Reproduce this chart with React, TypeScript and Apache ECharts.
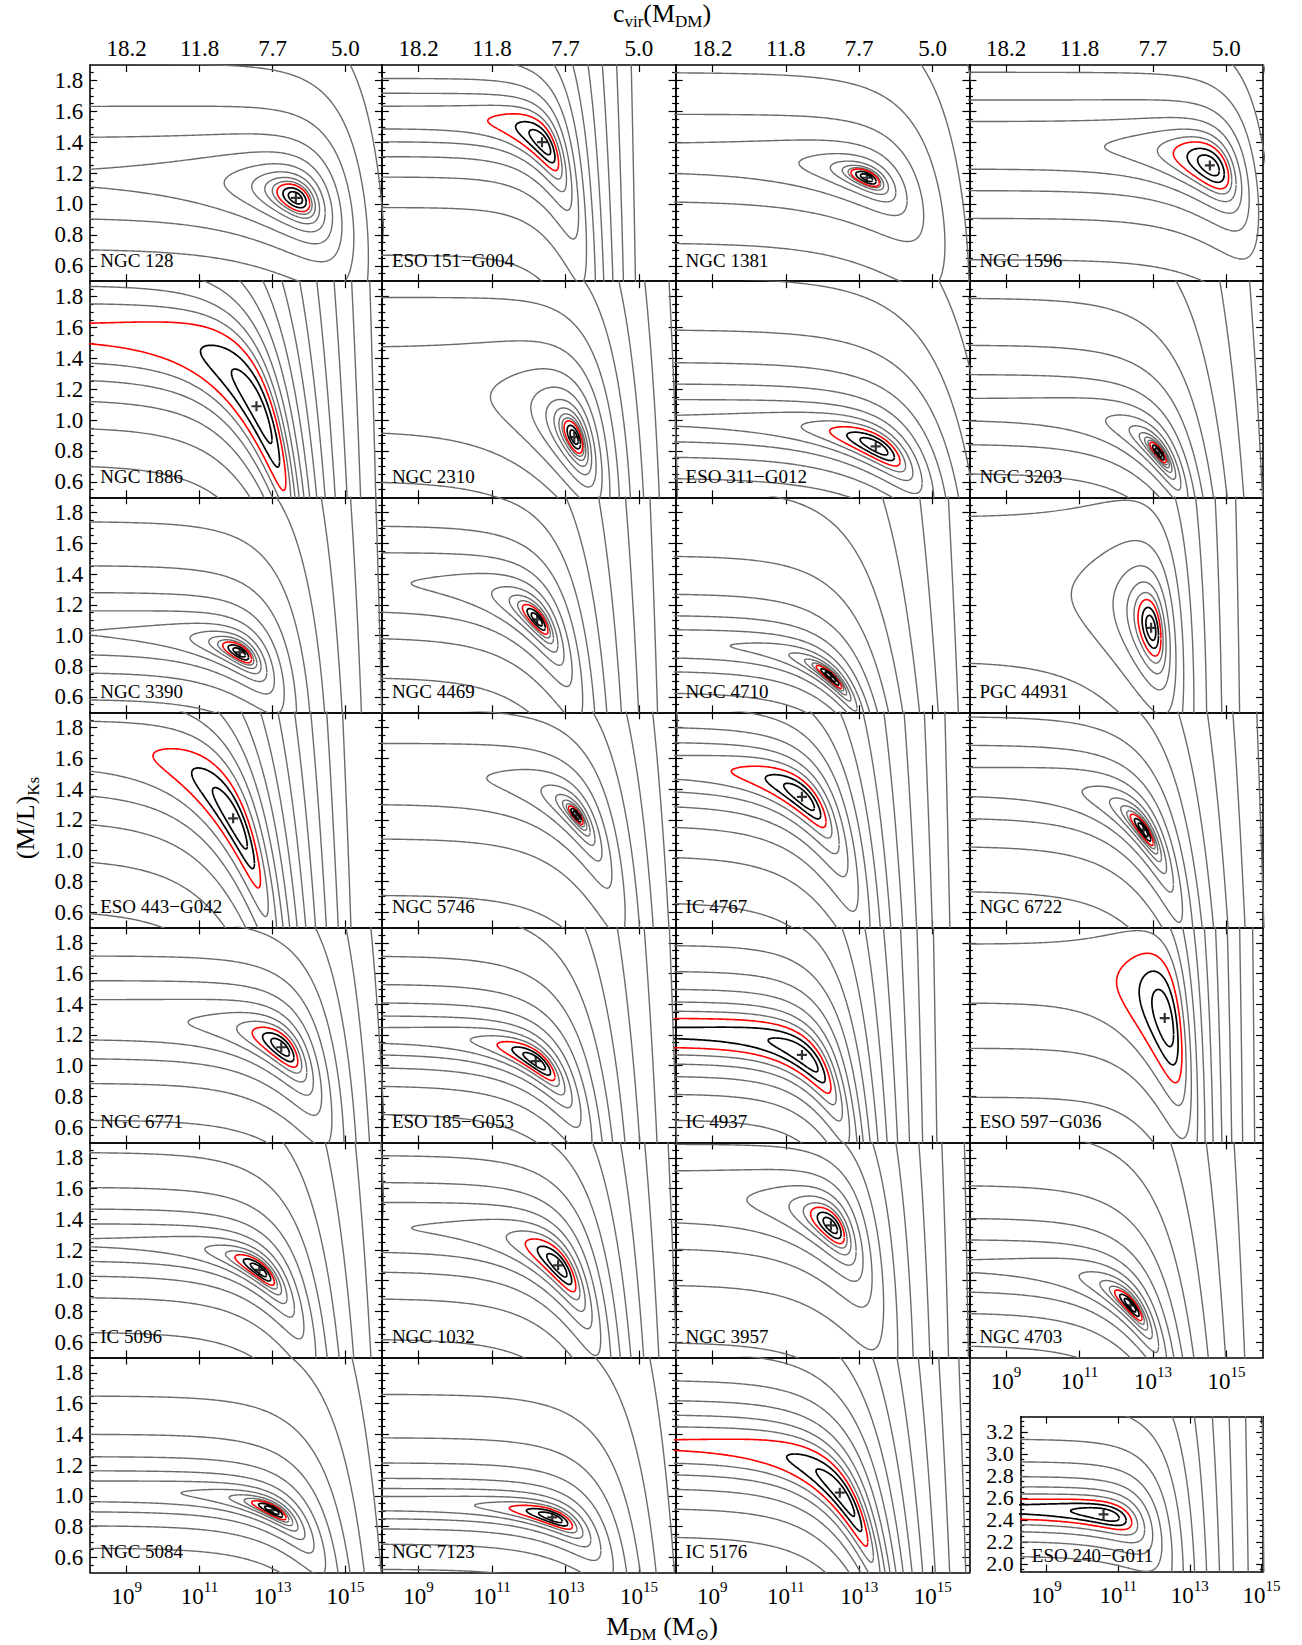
import React, { useEffect, useRef } from "react";
import * as echarts from "echarts";

// ---------- data ----------
const PANEL_NAMES = [
  "NGC 128", "ESO 151−G004", "NGC 1381", "NGC 1596",
  "NGC 1886", "NGC 2310", "ESO 311−G012", "NGC 3203",
  "NGC 3390", "NGC 4469", "NGC 4710", "PGC 44931",
  "ESO 443−G042", "NGC 5746", "IC 4767", "NGC 6722",
  "NGC 6771", "ESO 185−G053", "IC 4937", "ESO 597−G036",
  "IC 5096", "NGC 1032", "NGC 3957", "NGC 4703",
  "NGC 5084", "NGC 7123", "IC 5176", "ESO 240−G011",
];
// best fit (cross): log10 M_DM and (M/L)_Ks
const BEST_LOGM = [13.64, 12.36, 13.21, 14.55, 12.56, 13.24, 13.45, 13.16, 12.1, 12.23, 12.23, 12.95, 11.92, 13.3, 11.44, 12.74, 13.24, 12.19, 11.44, 13.32, 12.64, 12.8, 12.23, 12.39, 13.0, 12.64, 12.47, 10.59];
const BEST_ML = [1.04, 1.4, 1.17, 1.25, 1.09, 0.89, 0.83, 0.79, 0.89, 1.105, 0.73, 1.05, 1.21, 1.23, 1.35, 1.135, 1.12, 1.03, 1.07, 1.31, 1.07, 1.1, 1.36, 0.84, 0.906, 0.86, 1.02, 2.45];
// M/L level that the open contours approach at low M_DM
const FLAT_ML = [1.17, 1.56, 1.3, 1.38, 1.57, 1.2, 1.0, 1.07, 1.02, 1.35, 0.95, 1.3, 1.7, 1.5, 1.55, 1.45, 1.3, 1.2, 1.215, 1.6, 1.25, 1.35, 1.55, 1.1, 1.03, 0.95, 1.335, 2.5];
// size of the red (3 sigma) contour: extent in DM-contribution units and in M/L
const RED_DU = [0.3, 0.87, 0.26, 0.6, 1.022, 0.2, 0.58, 0.2, 0.35, 0.31, 0.31, 0.28, 0.83, 0.18, 0.83, 0.28, 0.52, 0.62, 1.48, 0.81, 0.46, 0.56, 0.4, 0.33, 0.41, 0.66, 1.018, 1.48];
const RED_DY = [0.08, 0.12, 0.045, 0.13, 0.24, 0.085, 0.08, 0.035, 0.05, 0.06, 0.03, 0.17, 0.2, 0.035, 0.11, 0.05, 0.09, 0.07, 0.127, 0.35, 0.055, 0.1, 0.09, 0.05, 0.035, 0.05, 0.136, 0.117];
// growth of the dark-matter term per decade of M_DM
const SLOPE_P = [0.3, 0.6, 0.3, 0.4, 0.38, 0.35, 0.3, 0.4, 0.4, 0.4, 0.4, 0.4, 0.35, 0.4, 0.4, 0.4, 0.4, 0.4, 0.5, 0.55, 0.4, 0.4, 0.4, 0.4, 0.4, 0.4, 0.4, 0.5];
// spacing of the grey contours
const GRAY_RATIO = [1.2, 1.3, 1.15, 1.22, 1.25, 1.18, 1.3, 1.2, 1.22, 1.25, 1.22, 1.25, 1.41, 1.25, 1.35, 1.22, 1.3, 1.3, 1.3, 1.35, 1.25, 1.3, 1.25, 1.25, 1.25, 1.3, 1.3, 1.35];
const GRAY_ACCEL = [1.03, 1.03, 1.08, 1.04, 1.02, 1.03, 1.03, 1.04, 1.04, 1.04, 1.05, 1.04, 1.0, 1.05, 1.02, 1.04, 1.03, 1.03, 1.02, 1.02, 1.04, 1.03, 1.04, 1.04, 1.04, 1.04, 1.02, 1.02];
const GRAY_COUNT = [10, 10, 11, 9, 14, 14, 10, 13, 12, 11, 13, 9, 10, 13, 11, 12, 10, 11, 12, 9, 11, 10, 11, 11, 12, 12, 13, 12];

const CHI2_BLACK = [2.3, 6.17];
const CHI2_RED = 11.8;

const X_TICKS = [9, 11, 13, 15];
const CVIR_LABELS = ["18.2", "11.8", "7.7", "5.0"];
const ML_TICKS = [0.6, 0.8, 1.0, 1.2, 1.4, 1.6, 1.8];
const INSET_ML_TICKS = [2.0, 2.2, 2.4, 2.6, 2.8, 3.0, 3.2];

const MAIN_X: [number, number] = [8, 16];
const MAIN_Y: [number, number] = [0.5, 1.9];
const INSET_X: [number, number] = [8.28, 15.05];
const INSET_Y: [number, number] = [1.93, 3.34];

// ---------- layout ----------
const COL_LEFT = [90.2, 381.9, 675.6, 969.4];
const PANEL_RIGHT = 1263.1;
const ROW_TOP = [65.0, 281.2, 497.3, 712.3, 927.4, 1142.5, 1357.5];
const PANEL_BOTTOM = 1572.6;
const INSET_BOX = { left: 1020.8, top: 1416.6, width: 242.4, height: 155 };
const FONT = "'Liberation Serif', 'DejaVu Serif', serif";
const GRAY = "#6b6b6b";
const TICK_FONT = 23;

const R_RED = Math.sqrt(CHI2_RED);

function minorTicks(lo: number, hi: number, majors: number[]) {
  const out: number[] = [];
  for (let k = Math.ceil(lo / 0.05 + 1e-6); k * 0.05 < hi - 1e-6; k++) {
    const v = Math.round(k * 5) / 100;
    if (!majors.some((m) => Math.abs(m - v) < 1e-6)) out.push(v);
  }
  return out;
}

function panelRect(i: number) {
  if (i === 27) return INSET_BOX;
  const r = Math.floor(i / 4);
  const c = i % 4;
  const left = COL_LEFT[c];
  const width = (c < 3 ? COL_LEFT[c + 1] : PANEL_RIGHT) - left;
  const top = ROW_TOP[r];
  const height = (r < 6 ? ROW_TOP[r + 1] : PANEL_BOTTOM) - top;
  return { left, top, width, height };
}

function contourPaths(i: number, r: number, xr: [number, number]): number[][][] {
  const xb = BEST_LOGM[i];
  const yb = BEST_ML[i];
  const p = SLOPE_P[i];
  const su = RED_DU[i] / R_RED;
  const sy = RED_DY[i] / R_RED;
  const m = FLAT_ML[i] - yb;
  const a = su * r;
  const uClipLo = Math.pow(10, p * (xr[0] - 0.4 - xb));
  const uClipHi = Math.pow(10, p * (xr[1] + 0.4 - xb));
  const lo = Math.max(1 - a, uClipLo);
  const hi = Math.min(1 + a, uClipHi);
  if (hi <= lo) return [];
  const us: number[] = [lo, hi];
  for (let k = 0; k <= 140; k++) us.push(1 + a * Math.cos((Math.PI * k) / 140));
  for (let x = xr[0] - 0.4; x <= xr[1] + 0.4; x += 0.05) us.push(Math.pow(10, p * (x - xb)));
  const list = us.filter((u) => u >= lo && u <= hi).sort((A, B) => B - A);
  const pt = (u: number, sgn: number) => {
    const du = u - 1;
    const q = du / su;
    const s = Math.sqrt(Math.max(0, r * r - q * q));
    return [xb + Math.log10(u) / p, yb - m * du + sgn * sy * s];
  };
  const upper = list.map((u) => pt(u, 1));
  const lower = list.slice().reverse().map((u) => pt(u, -1));
  if (1 - a >= uClipLo) return [upper.concat(lower)];
  return [upper, lower];
}

function appendTrimmed(path: number[][], yr: [number, number], out: any[]) {
  const yLo = yr[0] - 0.15;
  const yHi = yr[1] + 0.15;
  const inside = path.map((q) => q[1] >= yLo && q[1] <= yHi);
  let open = false;
  for (let k = 0; k < path.length; k++) {
    const keep = inside[k] || (k > 0 && inside[k - 1]) || (k < path.length - 1 && inside[k + 1]);
    if (keep) {
      out.push(path[k]);
      open = true;
    } else if (open) {
      out.push([null, null]);
      open = false;
    }
  }
  if (open) out.push([null, null]);
}

function levelData(i: number, radii: number[], xr: [number, number], yr: [number, number]) {
  const out: any[] = [];
  radii.forEach((r) => contourPaths(i, r, xr).forEach((path) => appendTrimmed(path, yr, out)));
  return out;
}

function grayRadii(i: number) {
  const out: number[] = [];
  let r = R_RED;
  let ratio = GRAY_RATIO[i];
  for (let k = 0; k < GRAY_COUNT[i]; k++) {
    r *= Math.min(1.75, ratio);
    out.push(r);
    ratio *= GRAY_ACCEL[i];
  }
  return out;
}

const axisLineStyle = { color: "#000", width: 1.6 };
const tickStyle = { color: "#000", width: 1.2 };

function titleText(x: number, y: number, text: string, rotation = 0) {
  return {
    type: "text",
    x,
    y,
    rotation,
    silent: true,
    style: {
      text,
      textAlign: "center",
      textVerticalAlign: "middle",
      rich: {
        m: { fontSize: 26, fontFamily: FONT, fill: "#000", lineHeight: 30, verticalAlign: "top" },
        s: { fontSize: 17, fontFamily: FONT, fill: "#000", lineHeight: 17, verticalAlign: "bottom" },
      },
    },
  };
}

function buildOption() {
  const grid: any[] = [];
  const xAxis: any[] = [];
  const yAxis: any[] = [];
  const series: any[] = [];
  const graphic: any[] = [];

  const mainMinor = minorTicks(MAIN_Y[0], MAIN_Y[1], ML_TICKS);
  const insetMinor = minorTicks(INSET_Y[0], INSET_Y[1], INSET_ML_TICKS);

  for (let i = 0; i < PANEL_NAMES.length; i++) {
    const rect = panelRect(i);
    const isInset = i === 27;
    const xr = isInset ? INSET_X : MAIN_X;
    const yr = isInset ? INSET_Y : MAIN_Y;
    const yTicks = isInset ? INSET_ML_TICKS : ML_TICKS;
    const yMinor = isInset ? insetMinor : mainMinor;
    const row = Math.floor(i / 4);
    const col = i % 4;
    const bottomLabels = i >= 23;
    const topLabels = row === 0 && !isInset;
    const leftLabels = col === 0 || isInset;

    grid.push({ left: rect.left, top: rect.top, width: rect.width, height: rect.height, containLabel: false });

    const baseX = {
      type: "value",
      gridIndex: i,
      min: xr[0],
      max: xr[1],
      splitLine: { show: false },
      axisLine: { show: true, onZero: false, lineStyle: axisLineStyle },
      axisTick: { show: true, inside: true, length: 7, customValues: X_TICKS, lineStyle: tickStyle },
    };
    xAxis.push({
      ...baseX,
      position: "bottom",
      axisLabel: bottomLabels
        ? {
            show: true,
            customValues: X_TICKS,
            margin: 7,
            showMinLabel: true,
            showMaxLabel: true,
            hideOverlap: false,
            formatter: (v: number) => `{b|10}{s|${v}}`,
            rich: {
              b: { fontSize: TICK_FONT, fontFamily: FONT, color: "#000", lineHeight: 28, verticalAlign: "bottom" },
              s: { fontSize: 15, fontFamily: FONT, color: "#000", lineHeight: 15, verticalAlign: "top" },
            },
          }
        : { show: false },
    });
    xAxis.push({
      ...baseX,
      position: "top",
      axisLabel: topLabels
        ? {
            show: true,
            customValues: X_TICKS,
            margin: 5,
            showMinLabel: true,
            showMaxLabel: true,
            hideOverlap: false,
            fontSize: TICK_FONT,
            fontFamily: FONT,
            color: "#000",
            formatter: (v: number) => CVIR_LABELS[X_TICKS.indexOf(v)],
          }
        : { show: false },
    });

    const baseY = {
      type: "value",
      gridIndex: i,
      min: yr[0],
      max: yr[1],
      splitLine: { show: false },
    };
    yAxis.push({
      ...baseY,
      position: "left",
      axisLine: { show: true, onZero: false, lineStyle: axisLineStyle },
      axisTick: { show: true, inside: true, length: 7, customValues: yTicks, lineStyle: tickStyle },
      axisLabel: leftLabels
        ? {
            show: true,
            customValues: yTicks,
            margin: 7,
            showMinLabel: true,
            showMaxLabel: true,
            hideOverlap: false,
            fontSize: isInset ? 22 : TICK_FONT,
            lineHeight: isInset ? 20 : 26,
            fontFamily: FONT,
            color: "#000",
            formatter: (v: number) => v.toFixed(1),
          }
        : { show: false },
    });
    yAxis.push({
      ...baseY,
      position: "right",
      axisLine: { show: true, onZero: false, lineStyle: axisLineStyle },
      axisTick: { show: true, inside: true, length: 7, customValues: yTicks, lineStyle: tickStyle },
      axisLabel: { show: false },
    });
    yAxis.push({
      ...baseY,
      position: "left",
      axisLine: { show: false, onZero: false },
      axisTick: { show: true, inside: true, length: 3.5, customValues: yMinor, lineStyle: tickStyle },
      axisLabel: { show: false },
    });
    yAxis.push({
      ...baseY,
      position: "right",
      axisLine: { show: false, onZero: false },
      axisTick: { show: true, inside: true, length: 3.5, customValues: yMinor, lineStyle: tickStyle },
      axisLabel: { show: false },
    });

    const xIdx = 2 * i;
    const yIdx = 4 * i;
    const lineBase = {
      type: "line",
      xAxisIndex: xIdx,
      yAxisIndex: yIdx,
      symbol: "none",
      showSymbol: false,
      connectNulls: false,
      clip: true,
      silent: true,
      smooth: false,
      animation: false,
    };
    series.push({
      ...lineBase,
      name: PANEL_NAMES[i] + " grey",
      lineStyle: { color: GRAY, width: 1.4 },
      data: levelData(i, grayRadii(i), xr, yr),
    });
    series.push({
      ...lineBase,
      name: PANEL_NAMES[i] + " red",
      lineStyle: { color: "#ff0000", width: 1.6 },
      data: levelData(i, [R_RED], xr, yr),
    });
    series.push({
      ...lineBase,
      name: PANEL_NAMES[i] + " black",
      lineStyle: { color: "#000", width: 1.7 },
      data: levelData(i, CHI2_BLACK.map((c) => Math.sqrt(c)), xr, yr),
    });
    series.push({
      type: "scatter",
      xAxisIndex: xIdx,
      yAxisIndex: yIdx,
      name: PANEL_NAMES[i] + " best fit",
      symbol: "path://M5,0L5,10M0,5L10,5",
      symbolSize: 10,
      silent: true,
      itemStyle: { color: "rgba(0,0,0,0)", borderColor: "#000", borderWidth: 2.2 },
      data: [[BEST_LOGM[i], BEST_ML[i]]],
      z: 5,
    });

    graphic.push({
      type: "text",
      x: rect.left + (isInset ? 11 : 10),
      y: rect.top + rect.height - (isInset ? 16 : 21),
      silent: true,
      z: 10,
      style: {
        text: PANEL_NAMES[i],
        fontSize: 19,
        fontFamily: FONT,
        fill: "#000",
        textAlign: "left",
        textVerticalAlign: "middle",
      },
    });
  }

  graphic.push(titleText(662, 15, "{m|c}{s|vir}{m|(M}{s|DM}{m|)}"));
  graphic.push(titleText(27, 818, "{m|(M/L)}{s|Ks}", Math.PI / 2));
  graphic.push(titleText(662, 1628, "{m|M}{s|DM}{m| (M}{s|⊙}{m|)}"));

  return {
    animation: false,
    backgroundColor: "#fff",
    textStyle: { fontFamily: FONT },
    grid,
    xAxis,
    yAxis,
    series,
    graphic,
  };
}

export default function App() {
  const ref = useRef<HTMLDivElement>(null);
  useEffect(() => {
    if (!ref.current) return;
    const chart = echarts.init(ref.current, undefined, { renderer: "svg" });
    chart.setOption(buildOption() as any);
    return () => chart.dispose();
  }, []);
  return (
    <div
      ref={ref}
      style={{ position: "absolute", left: 0, top: 0, width: 1302, height: 1645, background: "#fff" }}
    />
  );
}
